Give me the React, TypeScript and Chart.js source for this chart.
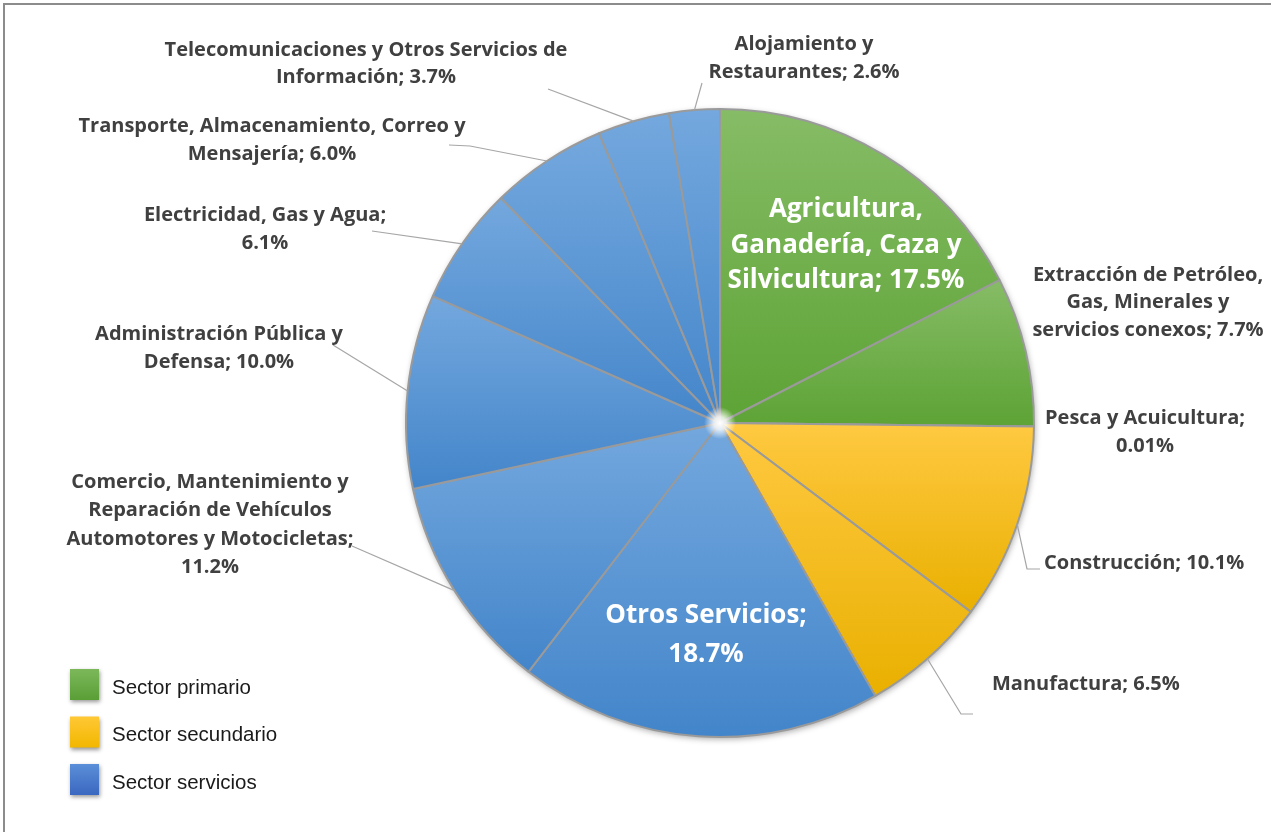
import React, { useEffect, useRef } from "react";
import { Chart, registerables } from "chart.js";

Chart.register(...registerables);

// ---------- data ----------
const categories = [
  "Agricultura, Ganadería, Caza y Silvicultura",
  "Extracción de Petróleo, Gas, Minerales y servicios conexos",
  "Pesca y Acuicultura",
  "Construcción",
  "Manufactura",
  "Otros Servicios",
  "Comercio, Mantenimiento y Reparación de Vehículos Automotores y Motocicletas",
  "Administración Pública y Defensa",
  "Electricidad, Gas y Agua",
  "Transporte, Almacenamiento, Correo y Mensajería",
  "Telecomunicaciones y Otros Servicios de Información",
  "Alojamiento y Restaurantes",
];
const values = [17.5, 7.7, 0.01, 10.1, 6.5, 18.7, 11.2, 10.0, 6.1, 6.0, 3.7, 2.6];
const sectors = [
  "primario", "primario", "primario",
  "secundario", "secundario",
  "servicios", "servicios", "servicios", "servicios", "servicios", "servicios", "servicios",
];
const legendSectors = ["primario", "secundario", "servicios"];
const legendLabels = ["Sector primario", "Sector secundario", "Sector servicios"];

// how each category name is broken into lines; valueOnNewLine puts the % on its own line
const nameLines = [
  ["Agricultura,", "Ganadería, Caza y", "Silvicultura"],
  ["Extracción de Petróleo,", "Gas, Minerales y", "servicios conexos"],
  ["Pesca y Acuicultura"],
  ["Construcción"],
  ["Manufactura"],
  ["Otros Servicios"],
  ["Comercio, Mantenimiento y", "Reparación de Vehículos", "Automotores y Motocicletas"],
  ["Administración Pública y", "Defensa"],
  ["Electricidad, Gas y Agua"],
  ["Transporte, Almacenamiento, Correo y", "Mensajería"],
  ["Telecomunicaciones y Otros Servicios de", "Información"],
  ["Alojamiento y", "Restaurantes"],
];
const valueOnNewLine = [false, false, true, false, false, true, true, false, true, false, false, false];

// ---------- styles / layout ----------
const sectorColors: Record<string, [string, string]> = {
  primario: ["#86bc66", "#5da335"],
  secundario: ["#ffc942", "#e9b000"],
  servicios: ["#74a8de", "#4385ca"],
};
const legendColors: Record<string, [string, string]> = {
  primario: ["#7cb85a", "#5a9e36"],
  secundario: ["#ffc835", "#f2b700"],
  servicios: ["#5b8fd8", "#3a67c0"],
};

const FONT = "'Open Sans', Lato, sans-serif";
const TEXT_COLOR = "#404040";

type LabelLayout = {
  x: number;
  y: number;
  align: CanvasTextAlign;
  size: number;
  lh: number;
  color: string;
  leader?: number[][];
};

const OUT = 20;
const IN = 26;

const labelLayout: LabelLayout[] = [
  { x: 846, y: 210, align: "center", size: IN, lh: 35.5, color: "#ffffff" },
  { x: 1148, y: 275, align: "center", size: OUT, lh: 27.5, color: TEXT_COLOR },
  { x: 1145, y: 418, align: "center", size: OUT, lh: 28, color: TEXT_COLOR },
  { x: 1044, y: 563, align: "left", size: OUT, lh: 28, color: TEXT_COLOR, leader: [[1027, 569], [1040, 569]] },
  { x: 992, y: 684, align: "left", size: OUT, lh: 28, color: TEXT_COLOR, leader: [[961, 714], [973, 714]] },
  { x: 706, y: 616, align: "center", size: IN, lh: 39, color: "#ffffff" },
  { x: 210, y: 482, align: "center", size: OUT, lh: 28.5, color: TEXT_COLOR, leader: [[352, 546]] },
  { x: 219, y: 334, align: "center", size: OUT, lh: 28, color: TEXT_COLOR, leader: [[333, 345]] },
  { x: 265, y: 215, align: "center", size: OUT, lh: 28, color: TEXT_COLOR, leader: [[372, 231]] },
  { x: 272, y: 126, align: "center", size: OUT, lh: 28, color: TEXT_COLOR, leader: [[470, 146], [449, 145]] },
  { x: 366, y: 50, align: "center", size: OUT, lh: 27, color: TEXT_COLOR, leader: [[548, 89]] },
  { x: 804, y: 44, align: "center", size: OUT, lh: 28, color: TEXT_COLOR, leader: [[702, 83]] },
];

function fmtValue(v: number) {
  return (v < 0.1 ? v.toFixed(2) : v.toFixed(1)) + "%";
}

function labelText(i: number): string[] {
  const lines = nameLines[i].slice();
  const last = lines.length - 1;
  if (valueOnNewLine[i]) {
    lines[last] = lines[last] + ";";
    lines.push(fmtValue(values[i]));
  } else {
    lines[last] = lines[last] + "; " + fmtValue(values[i]);
  }
  return lines;
}

function sliceGradient(context: any) {
  const chart = context.chart;
  const i = context.dataIndex;
  const cols = sectorColors[sectors[i]];
  const area = chart.chartArea;
  if (!area) return cols[1];
  const cx = (area.left + area.right) / 2;
  const cy = (area.top + area.bottom) / 2;
  const r = Math.min(area.right - area.left, area.bottom - area.top) / 2;
  const total = values.reduce((a, b) => a + b, 0);
  let before = 0;
  for (let k = 0; k < i; k++) before += values[k];
  const start = -Math.PI / 2 + (2 * Math.PI * before) / total;
  const end = start + (2 * Math.PI * values[i]) / total;
  const ys = [cy, cy + r * Math.sin(start), cy + r * Math.sin(end)];
  if (start <= Math.PI / 2 && end >= Math.PI / 2) ys.push(cy + r);
  if (end >= (3 * Math.PI) / 2) ys.push(cy - r);
  if (start <= -Math.PI / 2) ys.push(cy - r);
  const y0 = Math.min(...ys);
  let y1 = Math.max(...ys);
  if (y1 - y0 < 2) y1 = y0 + 2;
  const g = chart.ctx.createLinearGradient(0, y0, 0, y1);
  g.addColorStop(0, cols[0]);
  g.addColorStop(1, cols[1]);
  return g;
}

const decorPlugin = {
  id: "decor",
  beforeDraw(chart: any) {
    const ctx = chart.ctx;
    ctx.save();
    ctx.fillStyle = "#ffffff";
    ctx.fillRect(0, 0, chart.width, chart.height);
    ctx.strokeStyle = "#8c8c8c";
    ctx.lineWidth = 2;
    ctx.beginPath();
    ctx.moveTo(4, chart.height + 5);
    ctx.lineTo(4, 4);
    ctx.lineTo(chart.width + 5, 4);
    ctx.stroke();
    ctx.restore();
  },
  beforeDatasetsDraw(chart: any) {
    const arc = chart.getDatasetMeta(0).data[0];
    if (!arc) return;
    const ctx = chart.ctx;
    ctx.save();
    ctx.shadowColor = "rgba(0,0,0,0.35)";
    ctx.shadowBlur = 6;
    ctx.shadowOffsetX = 1;
    ctx.shadowOffsetY = 2;
    ctx.fillStyle = "#ffffff";
    ctx.beginPath();
    ctx.arc(arc.x, arc.y, arc.outerRadius, 0, Math.PI * 2);
    ctx.fill();
    ctx.restore();
  },
  afterDatasetsDraw(chart: any) {
    const ctx = chart.ctx;
    const arcs = chart.getDatasetMeta(0).data;
    ctx.save();
    // center glow
    if (arcs[0]) {
      const cx = arcs[0].x, cy = arcs[0].y;
      const rg = ctx.createRadialGradient(cx, cy, 0, cx, cy, 16);
      rg.addColorStop(0, "rgba(255,255,255,1)");
      rg.addColorStop(0.4, "rgba(255,255,255,0.8)");
      rg.addColorStop(1, "rgba(255,255,255,0)");
      ctx.fillStyle = rg;
      ctx.beginPath();
      ctx.arc(cx, cy, 16, 0, Math.PI * 2);
      ctx.fill();
    }
    // leaders + labels
    arcs.forEach((a: any, i: number) => {
      const L = labelLayout[i];
      if (L.leader) {
        const mid = (a.startAngle + a.endAngle) / 2;
        const sx = a.x + a.outerRadius * Math.cos(mid);
        const sy = a.y + a.outerRadius * Math.sin(mid);
        ctx.strokeStyle = "#a6a6a6";
        ctx.lineWidth = 1.2;
        ctx.beginPath();
        ctx.moveTo(sx, sy);
        L.leader.forEach((p) => ctx.lineTo(p[0], p[1]));
        ctx.stroke();
      }
      ctx.fillStyle = L.color;
      ctx.font = `bold ${L.size}px ${FONT}`;
      ctx.textAlign = L.align;
      ctx.textBaseline = "middle";
      labelText(i).forEach((t, k) => ctx.fillText(t, L.x, L.y + k * L.lh));
    });
    // legend
    legendSectors.forEach((s, k) => {
      const y = 669 + k * 47.5;
      const c = legendColors[s];
      ctx.save();
      ctx.shadowColor = "rgba(0,0,0,0.4)";
      ctx.shadowBlur = 4;
      ctx.shadowOffsetX = 1;
      ctx.shadowOffsetY = 2;
      const g = ctx.createLinearGradient(0, y, 0, y + 31);
      g.addColorStop(0, c[0]);
      g.addColorStop(1, c[1]);
      ctx.fillStyle = g;
      ctx.fillRect(70, y, 29, 31);
      ctx.restore();
      ctx.fillStyle = "#1a1a1a";
      ctx.font = "20.5px 'Liberation Sans', Arial, sans-serif";
      ctx.textAlign = "left";
      ctx.textBaseline = "middle";
      ctx.fillText(legendLabels[k], 112, y + 19);
    });
    ctx.restore();
  },
};

export default function App() {
  const ref = useRef<HTMLCanvasElement>(null);
  useEffect(() => {
    if (!ref.current) return;
    const chart = new Chart(ref.current, {
      type: "pie",
      data: {
        labels: categories,
        datasets: [
          {
            data: values,
            backgroundColor: sliceGradient as any,
            borderColor: "#9a9a9a",
            borderWidth: 2,
          },
        ],
      },
      options: {
        animation: false,
        responsive: false,
        events: [],
        layout: { padding: { left: 405, right: 236, top: 108, bottom: 94 } },
        plugins: {
          legend: { display: false },
          tooltip: { enabled: false },
          title: { display: false },
        },
      },
      plugins: [decorPlugin],
    });
    return () => chart.destroy();
  }, []);
  return (
    <div style={{ position: "fixed", left: 0, top: 0, width: 1271, height: 832, overflow: "hidden", background: "#fff" }}>
      <canvas ref={ref} width={1271} height={832} style={{ display: "block", width: 1271, height: 832 }} />
    </div>
  );
}
